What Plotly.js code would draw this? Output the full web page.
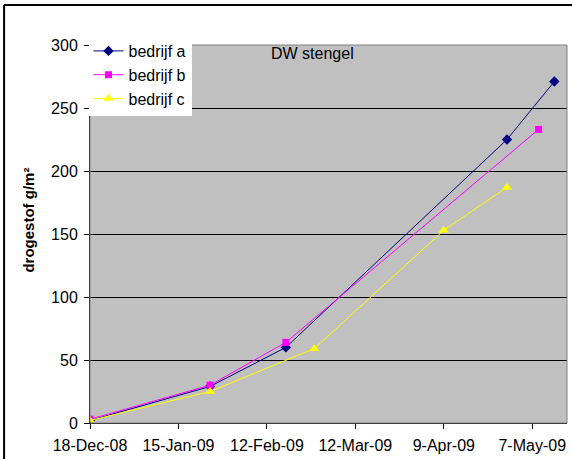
<!DOCTYPE html>
<html><head><meta charset="utf-8">
<script src="https://cdn.plot.ly/plotly-3.0.1.min.js"></script>
<style>body{margin:0;background:#fff}#chart{width:572px;height:459px}</style>
</head><body><div id="chart"></div>
<script>
// data
const datesA = ['2008-12-18','2009-01-25','2009-02-18','2009-04-29','2009-05-14'];
const valuesA = [2, 29, 60, 225, 271];
const datesB = ['2008-12-18','2009-01-25','2009-02-18','2009-05-09'];
const valuesB = [3, 30, 64, 233];
const datesC = ['2008-12-18','2009-01-25','2009-02-27','2009-04-09','2009-04-29'];
const valuesC = [2, 25, 59, 153, 187];
const seriesNames = ['bedrijf a','bedrijf b','bedrijf c'];
const tickDates = ['2008-12-18','2009-01-15','2009-02-12','2009-03-12','2009-04-09','2009-05-07'];
const tickLabels = ['18-Dec-08','15-Jan-09','12-Feb-09','12-Mar-09','9-Apr-09','7-May-09'];
const yTitle = 'drogestof g/m²';
const chartLabel = 'DW stengel';

const L = 89.5, R = 567, T = 45, B = 423, W = 572, H = 459;
const pw = R - L, ph = B - T;
const px = x => (x - L) / pw;
const py = y => (B - y) / ph;

const font = {family: 'Liberation Sans, Arial, sans-serif', size: 16, color: '#000'};

const traces = [
  {x: datesA, y: valuesA, name: seriesNames[0], legendgroup: 'a', mode: 'lines+markers',
   line: {color: '#000080', width: 1}, marker: {symbol: 'diamond', size: 8, color: '#000080'}},
  {x: datesB, y: valuesB, name: seriesNames[1], legendgroup: 'b', mode: 'lines+markers',
   line: {color: '#FF00FF', width: 1}, marker: {symbol: 'square', size: 7, color: '#FF00FF'}},
  {x: datesC, y: valuesC, name: seriesNames[2], legendgroup: 'c', mode: 'lines+markers',
   line: {color: '#FFFF00', width: 1}, marker: {symbol: 'triangle-up', size: 9, color: '#FFFF00'}}
];

const layout = {
  width: W, height: H,
  margin: {l: L, r: W - R, t: T, b: H - B, pad: 0},
  paper_bgcolor: '#fff', plot_bgcolor: '#C0C0C0',
  font: font,
  showlegend: true,
  legend: {x: px(88), y: py(34), xanchor: 'left', yanchor: 'top', bgcolor: 'rgba(255,255,255,1)',
    font: font, traceorder: 'grouped', tracegroupgap: 0, itemwidth: 30,
    borderwidth: 0},
  xaxis: {type: 'date', range: ['2008-12-18', '2009-05-18'],
    tickvals: tickDates, ticktext: tickLabels, ticks: 'outside', ticklen: 5,
    tickcolor: '#000', showline: true, linecolor: '#000', linewidth: 1,
    showgrid: false, zeroline: false, tickfont: font, ticklabelstandoff: 3, fixedrange: true},
  yaxis: {range: [0, 300], dtick: 50, tick0: 0, ticks: 'outside', ticklen: 5,
    tickcolor: '#000', showline: true, linecolor: '#000', linewidth: 1,
    showgrid: true, gridcolor: '#000', gridwidth: 1, zeroline: false,
    tickfont: font, ticklabelstandoff: 3},
  shapes: [
    {type: 'rect', xref: 'paper', yref: 'paper', x0: 0, x1: 1, y0: 0, y1: 1,
     line: {color: '#808080', width: 1}, layer: 'above'},
    {type: 'line', xref: 'paper', yref: 'paper', x0: px(3.5), x1: px(572), y0: py(5), y1: py(5),
     line: {color: '#000', width: 2}},
    {type: 'line', xref: 'paper', yref: 'paper', x0: px(3.5), x1: px(3.5), y0: py(5), y1: py(460),
     line: {color: '#000', width: 2}}
  ],
  annotations: [
    {text: chartLabel, xref: 'paper', yref: 'paper', x: px(312), y: py(53),
     xanchor: 'center', yanchor: 'middle', showarrow: false, font: font},
    {text: yTitle, xref: 'paper', yref: 'paper', x: px(28), y: py(220), textangle: -90,
     xanchor: 'center', yanchor: 'middle', showarrow: false,
     font: {family: font.family, size: 15, color: '#000', weight: 'bold'}}
  ]
};

Plotly.newPlot('chart', traces, layout, {displayModeBar: false, staticPlot: true});
</script></body></html>
